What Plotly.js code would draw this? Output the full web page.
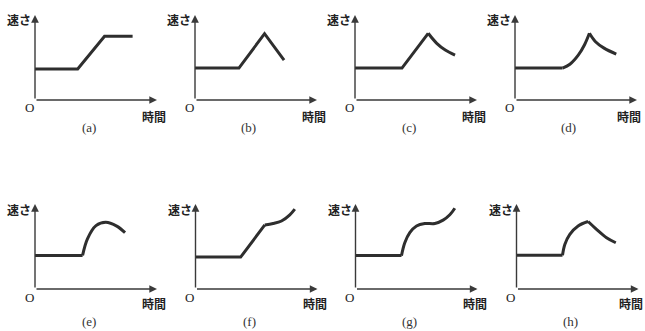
<!DOCTYPE html>
<html>
<head>
<meta charset="utf-8">
<script src="https://cdn.plot.ly/plotly-3.0.1.min.js"></script>
<style>html,body{margin:0;padding:0;background:#fff;}#chart{width:645px;height:331px;}</style>
</head>
<body>
<div id="chart"></div>
<script>
// Panel labels and axis labels
const panelLabels = ['(a)', '(b)', '(c)', '(d)', '(e)', '(f)', '(g)', '(h)'];
const yLabel = '速さ';
const xLabel = '時間';
const originLabel = 'O';

// (a)
const aTime  = [0, 3.5, 5.7, 8.0];
const aSpeed = [3.65, 3.65, 7.5, 7.5];
// (b)
const bTime  = [0, 3.6, 5.7, 7.3];
const bSpeed = [3.75, 3.75, 7.8, 4.7];
// (c)
const cTime  = [0, 3.85, 6.0];
const cSpeed = [3.75, 3.75, 7.85];
const cCurveTime  = [6.0, 6.7, 7.4, 8.2];
const cCurveSpeed = [7.85, 6.67, 5.88, 5.29];
// (d)
const dTime  = [0, 3.9];
const dSpeed = [3.75, 3.75];
const dRiseTime  = [3.9, 4.5, 5.2, 5.7, 6.1];
const dRiseSpeed = [3.75, 4.2, 5.3, 6.5, 7.85];
const dFallTime  = [6.1, 6.6, 7.3, 8.3];
const dFallSpeed = [7.85, 6.86, 6.1, 5.4];
// (e)
const eTime  = [0, 3.9];
const eSpeed = [3.95, 3.95];
const eCurveTime  = [3.9, 4.3, 5.0, 5.8, 6.7, 7.38];
const eCurveSpeed = [3.95, 5.9, 7.45, 7.85, 7.4, 6.63];
// (f)
const fTime  = [0, 3.7, 5.68];
const fSpeed = [3.75, 3.75, 7.54];
const fCurveTime  = [5.68, 6.36, 7.05, 7.73, 8.14];
const fCurveSpeed = [7.54, 7.7, 8.0, 8.73, 9.4];
// (g)
const gTime  = [0, 3.77];
const gSpeed = [3.93, 3.93];
const gCurveTime  = [3.77, 4.04, 4.45, 5.0, 5.68, 6.5, 7.18, 7.73, 8.14];
const gCurveSpeed = [3.93, 5.44, 6.63, 7.42, 7.7, 7.7, 8.1, 8.73, 9.5];
// (h)
const hTime  = [0, 3.77];
const hSpeed = [3.96, 3.96];
const hRiseTime  = [3.77, 3.96, 4.37, 5.05, 5.87];
const hRiseSpeed = [3.96, 5.24, 6.43, 7.42, 7.94];
const hFallTime  = [5.87, 6.56, 7.38, 8.14];
const hFallSpeed = [7.94, 7.02, 6.03, 5.44];

const panels = [
  [[aTime, aSpeed, 'linear']],
  [[bTime, bSpeed, 'linear']],
  [[cTime, cSpeed, 'linear'], [cCurveTime, cCurveSpeed, 'spline']],
  [[dTime, dSpeed, 'linear'], [dRiseTime, dRiseSpeed, 'spline'], [dFallTime, dFallSpeed, 'spline']],
  [[eTime, eSpeed, 'linear'], [eCurveTime, eCurveSpeed, 'spline']],
  [[fTime, fSpeed, 'linear'], [fCurveTime, fCurveSpeed, 'spline']],
  [[gTime, gSpeed, 'linear'], [gCurveTime, gCurveSpeed, 'spline']],
  [[hTime, hSpeed, 'linear'], [hRiseTime, hRiseSpeed, 'spline'], [hFallTime, hFallSpeed, 'spline']]
];

const W = 645, H = 331;
const originX = [35, 195, 355, 515, 35, 195.5, 355.5, 516.5];
const axisLen = 122;
const rowBase = [100, 289];
const rowTop = [15, 204];

const lineColor = '#2e2e2e';
const axisColor = '#3a3a3a';
const jpFont = '"Noto Sans CJK JP", "Noto Sans CJK SC", sans-serif';
const serifFont = '"Liberation Serif", "DejaVu Serif", serif';

const traces = [];
const layout = {
  width: W, height: H,
  margin: {l: 0, r: 0, t: 0, b: 0},
  paper_bgcolor: '#fff', plot_bgcolor: 'rgba(0,0,0,0)',
  showlegend: false,
  annotations: []
};

panels.forEach((segs, i) => {
  const n = i + 1;
  const xa = 'x' + (n === 1 ? '' : n);
  const ya = 'y' + (n === 1 ? '' : n);
  const row = i < 4 ? 0 : 1;
  const lastCol = (i % 4) === 3;
  const x0 = originX[i];
  layout['xaxis' + (n === 1 ? '' : n)] = {
    domain: [x0 / W, (x0 + axisLen) / W], range: [0, 10], visible: false, fixedrange: true,
    anchor: ya
  };
  layout['yaxis' + (n === 1 ? '' : n)] = {
    domain: [1 - rowBase[row] / H, 1 - rowTop[row] / H], range: [0, 10], visible: false, fixedrange: true,
    anchor: xa
  };
  segs.forEach(s => {
    traces.push({
      type: 'scatter', mode: 'lines', x: s[0], y: s[1], xaxis: xa, yaxis: ya,
      line: {color: lineColor, width: 3, shape: s[2], smoothing: 1},
      hoverinfo: 'skip', cliponaxis: false
    });
  });
  // axes arrows
  layout.annotations.push({
    xref: xa, yref: ya, x: 10, y: 0, ax: 0, ay: 0, axref: xa, ayref: ya,
    text: '', showarrow: true, arrowhead: 2, arrowsize: 1.1, arrowwidth: 1.4,
    arrowcolor: axisColor, standoff: 0, startstandoff: 0
  });
  layout.annotations.push({
    xref: xa, yref: ya, x: 0, y: 10, ax: 0, ay: 0, axref: xa, ayref: ya,
    text: '', showarrow: true, arrowhead: 2, arrowsize: 1.1, arrowwidth: 1.4,
    arrowcolor: axisColor, standoff: 0, startstandoff: 0
  });
  // labels
  layout.annotations.push({
    xref: xa, yref: ya, x: 0, y: 10, text: yLabel, showarrow: false,
    xanchor: 'right', yanchor: 'middle', xshift: -2, yshift: -5,
    font: {family: jpFont, size: 12, color: '#222', weight: 'bold'}
  });
  layout.annotations.push({
    xref: xa, yref: ya, x: 0, y: 0, text: originLabel, showarrow: false,
    xanchor: 'center', yanchor: 'middle', xshift: -6, yshift: -8,
    font: {family: serifFont, size: 13, color: '#222'}
  });
  layout.annotations.push({
    xref: xa, yref: ya, x: 10, y: 0, text: xLabel, showarrow: false,
    xanchor: 'center', yanchor: 'middle', xshift: lastCol ? -8 : -3, yshift: row === 0 ? -17 : -14,
    font: {family: jpFont, size: 12, color: '#222', weight: 'bold'}
  });
  layout.annotations.push({
    xref: xa, yref: ya, x: 4.4, y: 0, text: panelLabels[i], showarrow: false,
    xanchor: 'center', yanchor: 'middle', yshift: row === 0 ? -28 : -32,
    font: {family: serifFont, size: 13, color: '#333'}
  });
});

Plotly.newPlot('chart', traces, layout, {staticPlot: true, displayModeBar: false});
</script>
</body>
</html>
